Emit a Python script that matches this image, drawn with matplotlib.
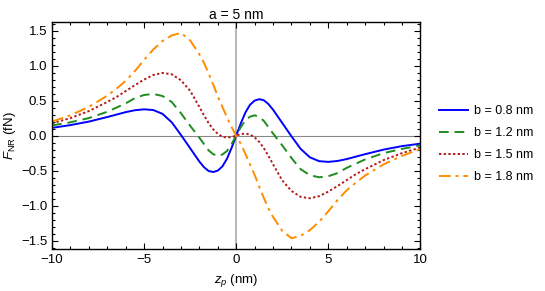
import matplotlib
matplotlib.use('Agg')
import matplotlib.pyplot as plt
from matplotlib.ticker import MultipleLocator

plt.rcParams['font.family'] = ['Liberation Sans', 'DejaVu Sans']
plt.rcParams['mathtext.fontset'] = 'custom'
plt.rcParams['mathtext.rm'] = 'Liberation Sans'
plt.rcParams['mathtext.it'] = 'Liberation Sans:italic'

# z_p positions (nm)
z = [-10, -9, -8, -7, -6.5, -6, -5.5, -5, -4.5, -4, -3.5, -3, -2.5, -2,
     -1.75, -1.5, -1.25, -1, -0.75, -0.5, -0.25, 0,
     0.25, 0.5, 0.75, 1, 1.25, 1.5, 1.75, 2, 2.5, 3, 3.5, 4, 4.5, 5,
     5.5, 6, 6.5, 7, 8, 9, 10]

# F_NR (fN) for each b
f_b08 = [0.11, 0.15, 0.20, 0.265, 0.30, 0.335, 0.362, 0.375, 0.365, 0.31,
         0.19, 0.01, -0.18, -0.37, -0.45, -0.505, -0.52, -0.50, -0.44,
         -0.33, -0.175, 0.0,
         0.175, 0.33, 0.44, 0.50, 0.52, 0.505, 0.45, 0.37, 0.18, -0.01,
         -0.19, -0.31, -0.365, -0.375, -0.362, -0.335, -0.30, -0.265, -0.20,
         -0.15, -0.115]
f_b12 = [0.145, 0.19, 0.25, 0.34, 0.40, 0.46, 0.535, 0.58, 0.595, 0.565,
         0.48, 0.32, 0.14, -0.03, -0.12, -0.21, -0.265, -0.29, -0.27, -0.22,
         -0.12, 0.0,
         0.12, 0.22, 0.27, 0.29, 0.265, 0.21, 0.12, 0.03, -0.14, -0.32,
         -0.48, -0.565, -0.595, -0.58, -0.535, -0.46, -0.40, -0.34, -0.25,
         -0.19, -0.14]
f_b15 = [0.175, 0.25, 0.35, 0.48, 0.55, 0.635, 0.72, 0.80, 0.865, 0.895,
         0.875, 0.79, 0.64, 0.41, 0.29, 0.18, 0.09, 0.025, -0.015, -0.03,
         -0.02, 0.0,
         0.02, 0.03, 0.015, -0.025, -0.09, -0.18, -0.29, -0.41, -0.64, -0.79,
         -0.875, -0.895, -0.865, -0.80, -0.72, -0.635, -0.55, -0.48, -0.35,
         -0.25, -0.17]
f_b18 = [0.20, 0.29, 0.41, 0.57, 0.67, 0.78, 0.92, 1.08, 1.23, 1.35, 1.43,
         1.465, 1.36, 1.16, 1.04, 0.89, 0.73, 0.56, 0.41, 0.26, 0.12, 0.0,
         -0.12, -0.26, -0.41, -0.56, -0.73, -0.89, -1.04, -1.16, -1.36,
         -1.465, -1.43, -1.35, -1.23, -1.08, -0.92, -0.78, -0.67, -0.57,
         -0.41, -0.29, -0.19]

labels = ['b = 0.8 nm', 'b = 1.2 nm', 'b = 1.5 nm', 'b = 1.8 nm']
series = [f_b08, f_b12, f_b15, f_b18]
line_colors = ['#0000ff', '#1e8c1e', '#b31b1b', '#ff8c00']
line_styles = ['-', (0, (5, 3)), (0, (1.2, 1.2)), (0, (6, 2.5, 1.5, 2.5))]

fig = plt.figure(figsize=(5.45, 2.91), dpi=100)
ax = fig.add_axes([0.0954, 0.144, 0.676, 0.780])

ax.axhline(0, color='#888888', lw=0.8, zorder=1)
ax.axvline(0, color='#aaaaaa', lw=1.2, zorder=1)

for vals, lab, c, ls in zip(series, labels, line_colors, line_styles):
    ax.plot(z, vals, color=c, ls=ls, lw=1.4, label=lab, zorder=2)

ax.set_xlim(-10, 10)
ax.set_ylim(-1.62, 1.62)
ax.xaxis.set_major_locator(MultipleLocator(5))
ax.xaxis.set_minor_locator(MultipleLocator(1))
ax.yaxis.set_major_locator(MultipleLocator(0.5))
ax.yaxis.set_minor_locator(MultipleLocator(0.1))
ax.yaxis.set_major_formatter(plt.FuncFormatter(lambda v, p: f'{v:.1f}'.replace('-', '\u2212')))
ax.tick_params(which='both', direction='in', top=True, right=True,
               labelsize=9.5, colors='black', width=0.8)
ax.tick_params(which='major', length=4)
ax.tick_params(which='minor', length=2)
for sp in ax.spines.values():
    sp.set_linewidth(1.0)

ax.set_title('a = 5 nm', fontsize=10, pad=2)
ax.set_xlabel('$z_p$ (nm)', fontsize=9.5, labelpad=4)
ax.set_ylabel('$F_{\\mathrm{NR}}$ (fN)', fontsize=9.5, labelpad=2)

ax.legend(loc='center left', bbox_to_anchor=(1.02, 0.462), frameon=False,
          fontsize=9, handlelength=2.3, handletextpad=0.5, labelspacing=0.8)

fig.savefig('out.png', dpi=100)
